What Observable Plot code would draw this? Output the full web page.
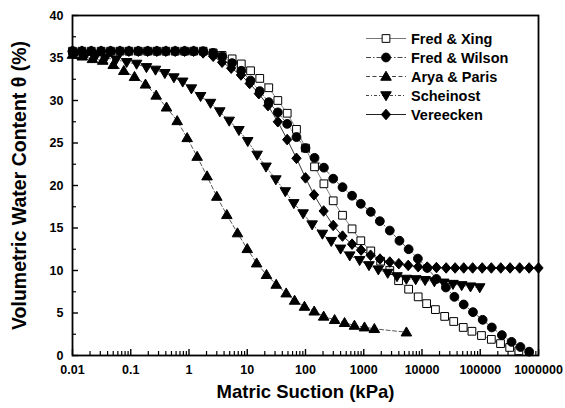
<!DOCTYPE html>
<html><head><meta charset="utf-8">
<script src="https://cdn.jsdelivr.net/npm/d3@7"></script>
<script src="https://cdn.jsdelivr.net/npm/@observablehq/plot@0.6"></script>
<style>
body{margin:0;background:#fff;}
#wrap{position:relative;width:565px;height:408px;font-family:"Liberation Sans",Arial,sans-serif;}
#legend{position:absolute;left:365px;top:29px;}
.row{display:flex;align-items:center;height:19px;}
.row svg{display:block;}
.row span{font-weight:bold;font-size:14.5px;margin-left:4px;color:#000;}
</style></head><body><div id="wrap"></div>
<script>
// ---- data ----
const seriesNames = ["Fred & Xing", "Fred & Wilson", "Arya & Paris", "Scheinost", "Vereecken"];

const xingX = [0.01,0.0145,0.021,0.031,0.045,0.065,0.093,0.135,0.195,0.28,0.4,0.58,0.84,1.2,1.75,2.6,
  3.7,5.5,7.9,11.4,16.4,23.4,33.5,48.5,70,100,143,207,299,432,630,890,1320,1950,2800,3960,
  5900,8600,12000,17000,24500,35000,51000,72000,105000,155000,223000,320000,460000];
const xingY = [35.8,35.8,35.8,35.8,35.8,35.8,35.8,35.8,35.8,35.8,35.8,35.8,35.8,35.8,35.8,35.6,
  35.3,34.9,34.3,33.5,32.6,31.5,30.0,28.5,26.6,24.4,22.2,20.2,18.2,16.5,14.9,13.5,12.3,11.1,10.0,8.8,
  7.8,6.9,6.1,5.4,4.6,4.0,3.3,2.85,2.35,1.9,1.4,0.95,0.55];

const wilsonX = [0.01,0.0145,0.021,0.031,0.045,0.065,0.093,0.135,0.195,0.28,0.4,0.58,0.84,1.2,1.75,2.6,
  3.7,5.5,7.9,11.4,16.4,23.4,33.5,48.5,70,100,143,207,299,432,630,890,1320,1890,2800,4100,
  5900,8500,12300,17700,25700,36000,52000,75000,110000,158000,235000,345000,490000,690000];
const wilsonY = [35.8,35.8,35.8,35.8,35.8,35.8,35.8,35.8,35.8,35.8,35.8,35.8,35.8,35.8,35.8,35.6,
  35.2,34.4,33.5,32.35,31.1,29.8,28.6,27.25,25.7,24.4,23.25,22.1,20.8,19.8,18.8,17.85,16.9,15.8,14.7,13.5,
  12.5,11.4,10.3,9.0,8.0,6.9,6.0,5.1,4.2,3.3,2.4,1.6,1.0,0.45];

const aryaX = [0.01,0.0147,0.022,0.033,0.05,0.076,0.116,0.179,0.273,0.411,0.627,0.93,1.38,2.04,3.0,4.46,
  6.8,10,14.5,21.4,31.4,46.6,65,96,141,205,316,468,692,1030,1520,5400];
const aryaY = [35.4,35.2,34.9,34.7,34.2,33.5,32.8,31.9,30.6,29.2,27.6,25.6,23.4,21.1,18.7,16.55,
  14.4,12.55,10.86,9.5,8.35,7.33,6.47,5.76,5.2,4.6,4.2,3.85,3.53,3.33,3.14,2.74];

const scheinostX = [0.0115,0.017,0.025,0.037,0.056,0.085,0.126,0.186,0.266,0.385,0.55,0.78,1.1,1.58,2.34,
  3.38,4.9,7.2,10.2,14.8,21,31,45,63,91,130,195,277,400,575,850,1230,1780,2580,3720,
  5390,7800,11300,16300,23600,34000,48000,68000,98000];
const scheinostY = [35.6,35.4,35.2,35.0,34.8,34.5,34.3,33.9,33.6,33.2,32.7,32.2,31.4,30.5,29.7,
  28.7,27.6,26.5,25.2,23.6,22.2,20.7,19.3,17.9,16.7,15.4,14.3,13.45,12.55,11.75,11.2,10.6,10.1,9.7,9.3,
  9.0,8.95,8.85,8.7,8.55,8.4,8.25,8.1,8.0];

const vereeckenX = [0.01,0.0145,0.021,0.031,0.045,0.065,0.093,0.135,0.195,0.28,0.4,0.58,0.84,1.2,
  1.75,2.6,3.7,5.3,7.8,11,15.8,22.7,33.5,48.5,70,100,140,205,299,432,630,900,1310,1900,
  2800,4000,5800,8600,12300,17700,26000,37000,52000,74000,108000,155000,225000,325000,475000,690000,1000000];
const vereeckenY = [35.8,35.8,35.8,35.8,35.8,35.8,35.8,35.8,35.8,35.8,35.8,35.8,35.8,35.8,
  35.6,35.2,34.5,33.8,33.0,32.0,30.8,29.4,27.5,25.4,23.2,20.9,18.9,17.0,15.3,14.05,13.1,12.4,11.8,11.35,
  11.0,10.8,10.6,10.45,10.4,10.35,10.3,10.3,10.3,10.3,10.3,10.3,10.3,10.3,10.3,10.3,10.3];

const xTicks = [0.01,0.1,1,10,100,1000,10000,100000,1000000];
const xTickLabels = ["0.01","0.1","1","10","100","1000","10000","100000","1000000"];
const yTicks = [0,5,10,15,20,25,30,35,40];
const yTickLabels = ["0","5","10","15","20","25","30","35","40"];
const xTitle = "Matric Suction (kPa)";
const yTitle = "Volumetric Water Content \u03b8 (%)";

// ---- symbols ----
const S = size => Math.sqrt(size / Math.PI);
const symbols = {
  square: {draw(c, size){const s = S(size)*0.88; c.rect(-s,-s,2*s,2*s);}},
  circle: {draw(c, size){const s = S(size); c.moveTo(s,0); c.arc(0,0,s,0,2*Math.PI);}},
  up: {draw(c, size){const s = S(size); c.moveTo(0,-1.2*s); c.lineTo(1.2*s,0.85*s); c.lineTo(-1.2*s,0.85*s); c.closePath();}},
  down: {draw(c, size){const s = S(size); c.moveTo(0,1.2*s); c.lineTo(1.2*s,-0.85*s); c.lineTo(-1.2*s,-0.85*s); c.closePath();}},
  diamond: {draw(c, size){const s = S(size); c.moveTo(0,-1.2*s); c.lineTo(1.05*s,0); c.lineTo(0,1.2*s); c.lineTo(-1.05*s,0); c.closePath();}}
};

const styles = [
  {sym: symbols.square, fill: "#fff", lineColor: "#777", dash: null, lw: 0.9},
  {sym: symbols.circle, fill: "#000", lineColor: "#444", dash: "5,2,1.5,2", lw: 0.9},
  {sym: symbols.up, fill: "#000", lineColor: "#444", dash: "4,2.5", lw: 0.9},
  {sym: symbols.down, fill: "#000", lineColor: "#444", dash: "3,2,1,2", lw: 0.9},
  {sym: symbols.diamond, fill: "#000", lineColor: "#222", dash: null, lw: 0.9}
];

const xs = [xingX, wilsonX, aryaX, scheinostX, vereeckenX];
const ys = [xingY, wilsonY, aryaY, scheinostY, vereeckenY];
const series = seriesNames.map((name, i) => ({
  name, style: styles[i],
  data: xs[i].map((x, j) => ({x, y: ys[i][j]}))
}));

// ---- layout ----
const W = 565, H = 408, mL = 72, mR = 27, mT = 15, mB = 53;
const fw = W - mL - mR, fh = H - mT - mB;
const xMinor = xTicks.flatMap(d => [2,3,4,5,6,7,8,9].map(k => d*k)).filter(v => v < 1e6);
const yMinor = yTicks.slice(0, -1).map(d => d + 2.5);
const xLab = new Map(xTicks.map((v, i) => [v, xTickLabels[i]]));
const yLab = new Map(yTicks.map((v, i) => [v, yTickLabels[i]]));

const marks = [
  Plot.ruleX(xMinor, {x: d => d, insetTop: fh - 4, stroke: "#000", strokeWidth: 1.2}),
  Plot.ruleX(xTicks, {x: d => d, insetTop: fh - 6, stroke: "#000", strokeWidth: 1.4}),
  Plot.ruleY(yMinor, {y: d => d, insetRight: fw - 4, stroke: "#000", strokeWidth: 1.2}),
  Plot.ruleY(yTicks, {y: d => d, insetRight: fw - 6, stroke: "#000", strokeWidth: 1.4}),
  Plot.axisX(xTicks, {tickSize: 0, tickPadding: 10, tickFormat: d => xLab.get(d), label: null, fontSize: 12.5, fontWeight: "bold"}),
  Plot.axisY(yTicks, {tickSize: 0, tickPadding: 9, tickFormat: d => yLab.get(d), label: null, fontSize: 12.5, fontWeight: "bold"}),
];
for (const s of series) {
  marks.push(Plot.line(s.data, {x: "x", y: "y", stroke: s.style.lineColor, strokeWidth: s.style.lw, strokeDasharray: s.style.dash}));
}
for (const s of series) {
  marks.push(Plot.dot(s.data, {x: "x", y: "y", r: 4.4, symbol: s.style.sym, fill: s.style.fill, stroke: "#000", strokeWidth: 1}));
}
marks.push(Plot.frame({stroke: "#000", strokeWidth: 1.8}));
marks.push(Plot.text([xTitle], {text: d => d, frameAnchor: "bottom", dy: 42, fontSize: 18.5, fontWeight: "bold"}));
marks.push(Plot.text([yTitle], {text: d => d, frameAnchor: "left", textAnchor: "middle", dx: -53, rotate: -90, fontSize: 19.5, fontWeight: "bold"}));

const chart = Plot.plot({
  width: W, height: H, marginLeft: mL, marginRight: mR, marginTop: mT, marginBottom: mB,
  style: {fontFamily: '"Liberation Sans", Arial, sans-serif', fontSize: "12px", fontWeight: "bold", background: "#fff", color: "#000"},
  x: {type: "log", domain: [0.01, 1e6]},
  y: {domain: [0, 40]},
  marks
});
const wrap = document.getElementById("wrap");
wrap.appendChild(chart);

// ---- legend ----
const legend = d3.select(wrap).append("div").attr("id", "legend");
series.forEach(s => {
  const row = legend.append("div").attr("class", "row");
  const svg = row.append("svg").attr("width", 42).attr("height", 19);
  svg.append("line").attr("x1", 1).attr("x2", 41).attr("y1", 9.5).attr("y2", 9.5)
    .attr("stroke", s.style.lineColor).attr("stroke-width", 1.2)
    .attr("stroke-dasharray", s.style.dash);
  const p = d3.path();
  s.style.sym.draw(p, Math.PI * 4.4 * 4.4);
  svg.append("path").attr("d", p.toString()).attr("transform", "translate(21,9.5)")
    .attr("fill", s.style.fill).attr("stroke", "#000").attr("stroke-width", 1);
  row.append("span").text(s.name);
});
</script></body></html>
